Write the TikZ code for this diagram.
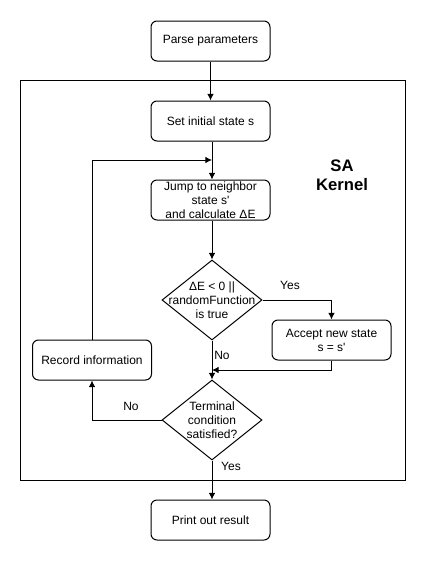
\documentclass[tikz,border=0pt]{standalone}
\usepackage{fontspec}
\setmainfont{Liberation Sans}
\usetikzlibrary{shapes.geometric,arrows.meta}
\begin{document}
\begin{tikzpicture}[x=0.75pt,y=-0.75pt,
  every node/.style={font=\fontsize{9}{10.5}\selectfont},
  proc/.style={draw,rounded corners=4.5pt,minimum width=89.25pt,minimum height=30pt,align=center,inner sep=1pt,line width=0.75pt},
  dec/.style={draw,diamond,minimum width=75pt,minimum height=60pt,inner sep=0pt,line width=0.75pt},
  dectext/.style={align=center,inner sep=0pt},
  lbl/.style={inner sep=0pt},
  arr/.style={-{Latex[length=5pt,width=5pt]},line width=0.75pt}]
\useasboundingbox (0,0) rectangle (426,561);
\draw[line width=0.75pt] (20,80) rectangle (405,480);
\node[proc] (parse) at (210.5,41) {Parse parameters};
\node[proc] (init) at (210.5,121) {Set initial state s};
\node[proc] (jump) at (210.5,200) {Jump to neighbor\\state s\textquotesingle\\and calculate ΔE};
\node[dec] (d1) at (212,300) {};
\node[dectext] (d1t) at (d1.center) {ΔE < 0 ||\\randomFunction\\is true};
\node[proc] (acc) at (331.5,340) {Accept new state\\s = s\textquotesingle};
\node[proc] (rec) at (92,360) {Record information};
\node[dec] (d2) at (212,420) {};
\node[dectext] (d2t) at (d2.center) {Terminal\\condition\\satisfied?};
\node[proc] (print) at (210.5,520) {Print out result};
\node[font=\fontsize{12.5}{14}\selectfont\bfseries,align=center] (sa) at (342,175) {SA\\Kernel};
\coordinate (j1) at (212,160);
\coordinate (m1) at (212,370);
\draw[arr] (parse) -- (init);
\draw[arr] (init.south -| j1) -- (jump.north -| j1);
\draw[arr] (jump.south -| d1) -- (d1.north);
\draw[arr] (d1.east) -| (acc.north);
\draw[arr] (d1.south) -- (d2.north);
\draw[arr] (acc.south) |- (m1);
\draw[arr] (d2.west) -| (rec.south);
\draw[arr] (rec.north) |- (j1);
\draw[arr] (d2.south) -- (print.north -| d2);
\node[lbl] (y1) at (290,285) {Yes};
\node[lbl] (n1) at (222,355) {No};
\node[lbl] (n2) at (131,406) {No};
\node[lbl] (y2) at (231,466) {Yes};
\end{tikzpicture}
\end{document}
